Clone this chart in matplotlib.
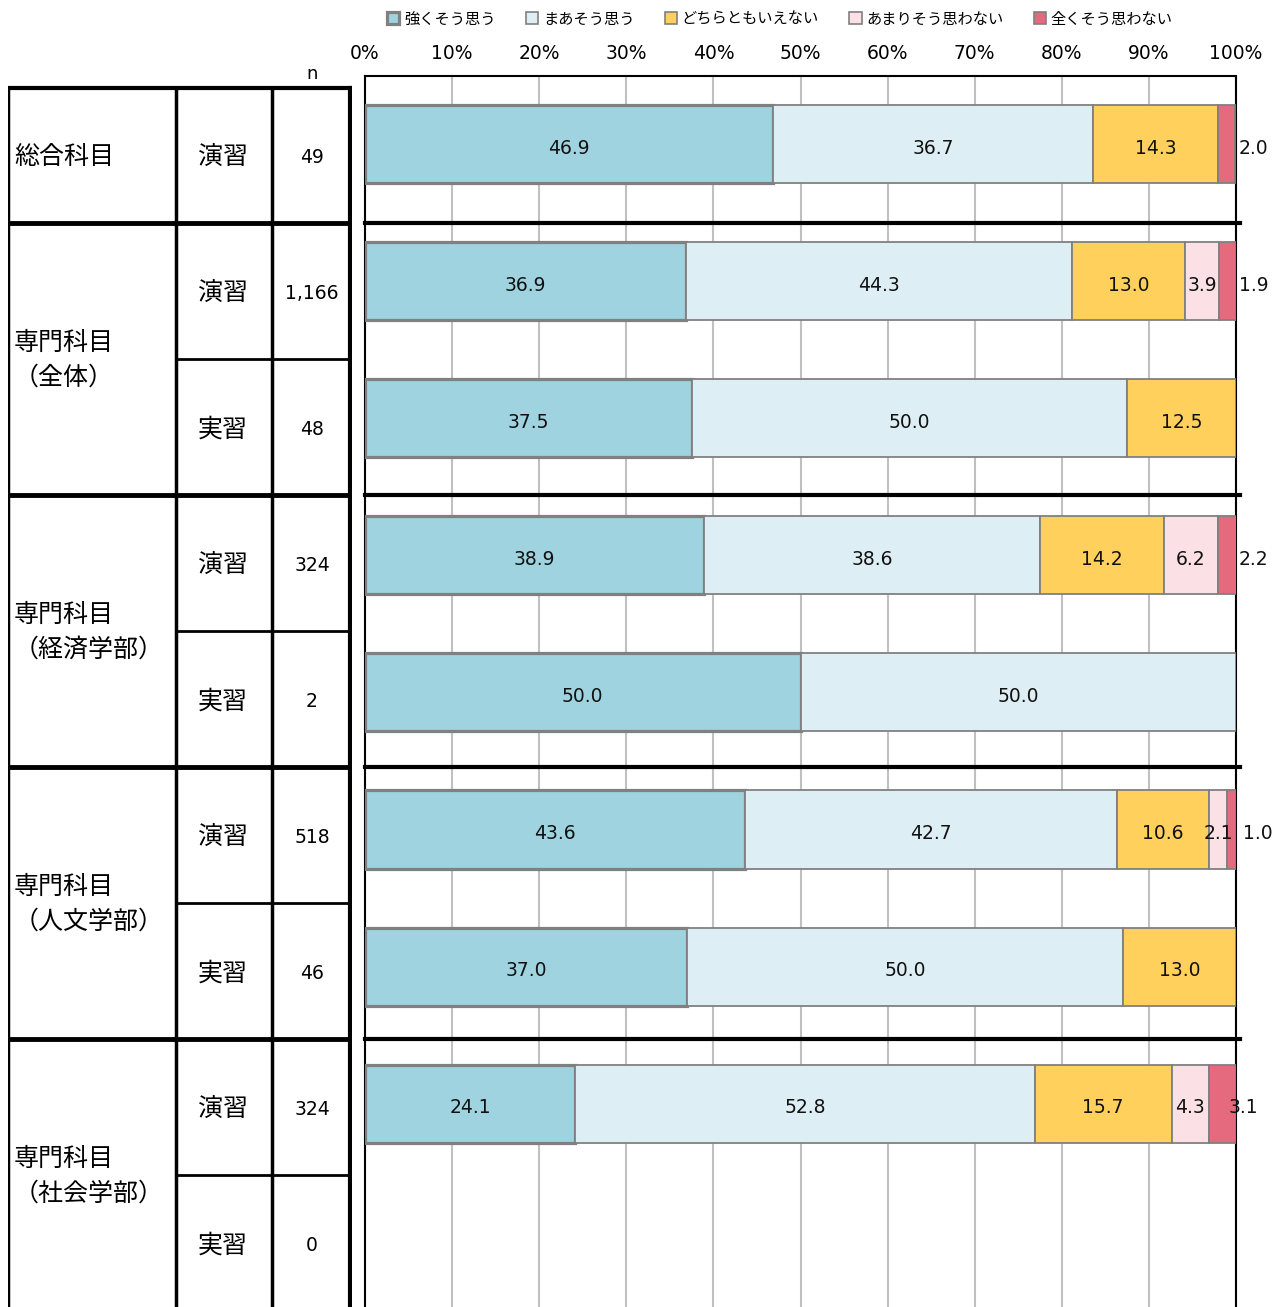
import numpy as np
import matplotlib.pyplot as plt
from matplotlib.patches import Patch

plt.rcParams['font.family'] = ['Noto Sans CJK JP', 'DejaVu Sans']

# data
series = ["強くそう思う", "まあそう思う", "どちらともいえない", "あまりそう思わない", "全くそう思わない"]
colors = ["#9fd3df", "#ddeff4", "#ffd05c", "#fbe1e5", "#e66a7e"]

groups = ["総合科目", "専門科目\n（全体）", "専門科目\n（経済学部）", "専門科目\n（人文学部）", "専門科目\n（社会学部）"]
group_rows = [1, 2, 2, 2, 2]
kinds = ["演習", "演習", "実習", "演習", "実習", "演習", "実習", "演習", "実習"]
n_labels = ["49", "1,166", "48", "324", "2", "518", "46", "324", "0"]

strong = [46.9, 36.9, 37.5, 38.9, 50.0, 43.6, 37.0, 24.1, 0]
somewhat = [36.7, 44.3, 50.0, 38.6, 50.0, 42.7, 50.0, 52.8, 0]
neutral = [14.3, 13.0, 12.5, 14.2, 0, 10.6, 13.0, 15.7, 0]
notreally = [0, 3.9, 0, 6.2, 0, 2.1, 0, 4.3, 0]
never = [2.0, 1.9, 0, 2.2, 0, 1.0, 0, 3.1, 0]
values = np.array([strong, somewhat, neutral, notreally, never])

nrows = len(kinds)
y = np.arange(nrows)
W, H = 1283, 1307
ax_top = 76

# bar rows: first centre at 144 px, 137.1 px apart
ytop, ybot = -(144 - ax_top) / 137.1, (H - 144) / 137.1
# table rows: first centre at 155 px, 136 px apart
ttop_lim, tbot_lim = -(155 - ax_top) / 136, (H - 155) / 136

fig = plt.figure(figsize=(12.83, 13.07), dpi=100)
ax = fig.add_axes([365 / W, 0, 871 / W, (H - ax_top) / H])

left = np.zeros(nrows)
for k in range(5):
    v = values[k]
    mask = v > 0
    lw = 2.3 if k == 0 else 1.3
    ax.barh(y[mask], v[mask], left=left[mask], height=0.57, color=colors[k],
            edgecolor="#808080", linewidth=lw, zorder=3)
    for i in np.where(mask)[0]:
        cx = left[i] + v[i] / 2
        if k == 4:
            # small last segments: labels sit just right of the bar
            cx = 102.0
            if i == 7:
                cx = 100.9
            if i == 5:
                cx = 102.5
        ax.text(cx, y[i] + 0.03, f"{v[i]:.1f}", ha="center", va="center", fontsize=13.5,
                family="DejaVu Sans", color="#111111", zorder=5, clip_on=False)
    left += v

ax.set_xlim(0, 100)
ax.set_ylim(ybot, ytop)
ax.set_xticks(np.arange(0, 101, 10))
ax.set_xticklabels([f"{t}%" for t in range(0, 101, 10)], family="DejaVu Sans", fontsize=13.5)
ax.xaxis.tick_top()
ax.tick_params(axis="x", length=0, pad=9.5)
ax.set_yticks([])
ax.grid(axis="x", color="#c0c0c0", linewidth=1.5, zorder=0)
for s in ["top", "left", "right"]:
    ax.spines[s].set_color("black")
    ax.spines[s].set_linewidth(1.5)
ax.spines["bottom"].set_visible(False)

# group separators across plot, lined up with the table
bounds = np.cumsum(group_rows)[:-1]
for b in bounds:
    px = 155 + (b - 0.5) * 136
    ax.axhline((px - 144) / 137.1, color="black", linewidth=3, zorder=4,
               clip_on=False, xmax=1.005)

# left table
tx = fig.add_axes([8 / W, 0, (352 - 8) / W, (H - ax_top) / H])
tx.set_xlim(8, 352)
tx.set_ylim(tbot_lim, ttop_lim)
tx.axis("off")
ttop = -(155 - 88) / 136
col1, col2, col3 = 176, 272, 350
tx.plot([8, 350], [ttop, ttop], color="black", lw=3)
for xx, lw in [(8, 2.5), (col1, 2.5), (col2, 2.5), (col3, 3)]:
    tx.plot([xx, xx], [ttop, tbot_lim], color="black", lw=lw)
tx.text(312, ttop - 0.04, "n", ha="center", va="bottom", fontsize=13, family="DejaVu Sans")

start = 0
for g, cnt in zip(groups, group_rows):
    top = start - 0.5 if start > 0 else ttop
    bot = start + cnt - 0.5
    if start > 0:
        tx.plot([8, 350], [top, top], color="black", lw=3.5)
    for r in range(start + 1, start + cnt):
        tx.plot([col1, 350], [r - 0.5, r - 0.5], color="black", lw=2)
    tx.text(14, (top + bot) / 2 + 0.01, g, ha="left", va="center", fontsize=18,
            linespacing=1.4)
    start += cnt

for i in range(nrows):
    tx.text(223, y[i] + 0.02, kinds[i], ha="center", va="center", fontsize=18)
    tx.text(312, y[i] + 0.02, n_labels[i], ha="center", va="center", fontsize=13.5,
            family="DejaVu Sans")

# legend
handles = [Patch(facecolor=c, edgecolor="#808080", linewidth=2.3 if k == 0 else 1.2)
           for k, c in enumerate(colors)]
fig.legend(handles, series, loc="center", bbox_to_anchor=(780 / W, 1 - 19 / H), ncol=5,
           frameon=False, fontsize=11, handlelength=0.8, handleheight=0.8,
           handletextpad=0.3, columnspacing=2.0)

fig.savefig("out.png", dpi=100)
